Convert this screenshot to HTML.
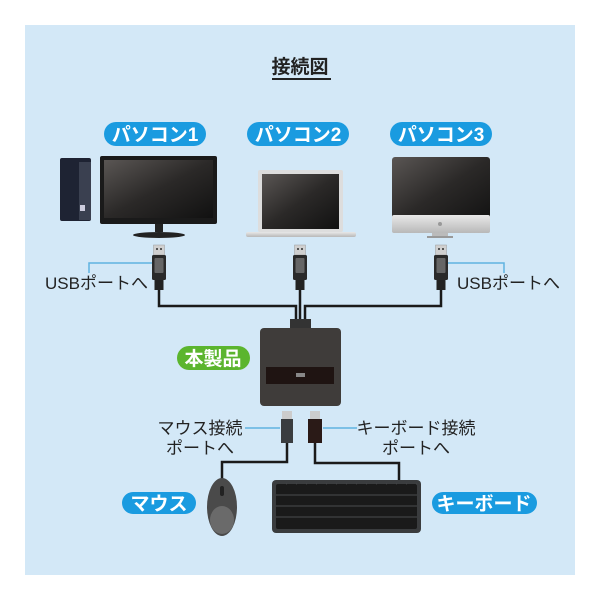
<!DOCTYPE html>
<html><head><meta charset="utf-8"><style>
body{margin:0;background:#fff;}
svg{display:block}
text{font-family:"Liberation Sans","Noto Sans CJK JP",sans-serif;}
</style></head><body>
<svg width="600" height="600" viewBox="0 0 600 600" xmlns="http://www.w3.org/2000/svg">
<defs>
<linearGradient id="scr" x1="0" y1="0" x2="1" y2="1"><stop offset="0" stop-color="#5a5654"/><stop offset="0.5" stop-color="#2b2928"/><stop offset="1" stop-color="#111"/></linearGradient>
<linearGradient id="silver" x1="0" y1="0" x2="0" y2="1"><stop offset="0" stop-color="#e8e8e8"/><stop offset="1" stop-color="#b8b8b8"/></linearGradient>
<g id="plug">
<rect x="-5.5" y="0" width="11" height="10" fill="#d0d0d0" stroke="#999" stroke-width="0.5"/>
<rect x="-3" y="3" width="2" height="2" fill="#555"/><rect x="1" y="3" width="2" height="2" fill="#555"/>
<rect x="-7" y="10" width="14" height="25" rx="1.5" fill="#2a2a2a"/>
<rect x="-4.5" y="13" width="9" height="15" rx="1" fill="#666"/>
<rect x="-4.5" y="35" width="9" height="10" fill="#222"/>
</g>
</defs>
<rect x="25" y="25" width="550" height="550" fill="#d3e8f7"/>
<text x="300" y="73" font-size="19" font-weight="bold" text-anchor="middle" fill="#222">接続図</text>
<rect x="272" y="78" width="59" height="2" fill="#222"/>
<g font-size="19" font-weight="bold" fill="#fff" text-anchor="middle">
<rect x="104" y="122" width="102" height="24" rx="12" fill="#1a9be0"/><text x="155" y="141">パソコン1</text>
<rect x="247" y="122" width="102" height="24" rx="12" fill="#1a9be0"/><text x="298" y="141">パソコン2</text>
<rect x="390" y="122" width="102" height="24" rx="12" fill="#1a9be0"/><text x="441" y="141">パソコン3</text>
<rect x="177" y="346" width="73" height="24" rx="12" fill="#5bb52e"/><text x="213" y="365">本製品</text>
<rect x="122" y="492" width="74" height="22" rx="11" fill="#1a9be0"/><text x="159" y="510">マウス</text>
<rect x="432" y="492" width="105" height="22" rx="11" fill="#1a9be0"/><text x="484" y="510">キーボード</text>
</g>
<rect x="60" y="158" width="31" height="63" rx="2" fill="#1e2333"/>
<rect x="79" y="162" width="12" height="58" fill="#3a4050"/>
<rect x="80" y="205" width="5" height="6" fill="#ccd"/>
<rect x="100" y="156" width="117" height="68" rx="2" fill="#1a1a1a"/>
<rect x="104" y="160" width="109" height="58" fill="url(#scr)"/>
<rect x="155" y="224" width="8" height="8" fill="#222"/>
<ellipse cx="159" cy="235" rx="26" ry="3" fill="#222"/>
<rect x="258" y="170" width="85" height="62" rx="2" fill="#ddd"/>
<rect x="262" y="174" width="77" height="55" fill="url(#scr)"/>
<rect x="246" y="232" width="110" height="5" rx="2" fill="url(#silver)"/>
<rect x="392" y="157" width="98" height="67" rx="3" fill="url(#scr)"/>
<rect x="392" y="215" width="98" height="18" rx="2" fill="url(#silver)"/>
<circle cx="440" cy="224" r="2" fill="#999"/>
<rect x="432" y="233" width="16" height="3" fill="#bbb"/>
<rect x="427" y="236" width="26" height="2" fill="#999"/>
<g stroke="#5fb3e0" stroke-width="1.5" fill="none">
<polyline points="89,273 89,263 152,263"/>
<polyline points="447,263 504,263 504,273"/>
<line x1="245" y1="428" x2="280" y2="428"/>
<line x1="323" y1="428" x2="357" y2="428"/>
</g>
<g stroke="#1a1a1a" stroke-width="2.5" fill="none">
<polyline points="159,289 159,306 296,306 296,322"/>
<polyline points="300,289 300,322"/>
<polyline points="441,289 441,306 305,306 305,322"/>
<polyline points="287,443 287,462 222,462 222,480"/>
<polyline points="315,443 315,463 399,463 399,481"/>
</g>
<use href="#plug" x="159" y="245"/>
<use href="#plug" x="300" y="245"/>
<use href="#plug" x="441" y="245"/>
<rect x="290" y="319" width="21" height="10" fill="#333"/>
<rect x="260" y="328" width="81" height="78" rx="4" fill="#3f3c3a"/>
<rect x="266" y="367" width="68" height="17" fill="#1f1412"/>
<rect x="296" y="373" width="9" height="4" fill="#888"/>
<rect x="282" y="411" width="10" height="8" fill="#ccc"/>
<rect x="281" y="419" width="12" height="24" fill="#3a3d40"/>
<rect x="310" y="411" width="10" height="8" fill="#ccc"/>
<rect x="308" y="419" width="14" height="24" fill="#2a1a17"/>
<g font-size="17" fill="#222">
<text x="45" y="289">USBポートへ</text>
<text x="457" y="289">USBポートへ</text>
<text x="200" y="434" text-anchor="middle">マウス接続</text>
<text x="200" y="454" text-anchor="middle">ポートへ</text>
<text x="416" y="434" text-anchor="middle">キーボード接続</text>
<text x="416" y="454" text-anchor="middle">ポートへ</text>
</g>
<ellipse cx="222" cy="507" rx="15" ry="29" fill="#4a4a4a"/>
<ellipse cx="222" cy="520" rx="12" ry="14" fill="#6a6a6a"/>
<rect x="220" y="486" width="4" height="10" rx="2" fill="#222"/>
<rect x="272" y="480" width="149" height="53" rx="4" fill="#3a3c3e"/>
<rect x="276" y="484" width="141" height="45" rx="2" fill="#1a1a1a"/>
<g stroke="#4a4c4e" stroke-width="1">
<line x1="276" y1="495" x2="417" y2="495"/><line x1="276" y1="506" x2="417" y2="506"/><line x1="276" y1="517" x2="417" y2="517"/>
</g>
<g stroke="#4a4c4e" stroke-width="0.8" stroke-dasharray="1 9">
<line x1="286" y1="484" x2="417" y2="484" transform="translate(0,0)"/>
</g>
</svg>
</body></html>
